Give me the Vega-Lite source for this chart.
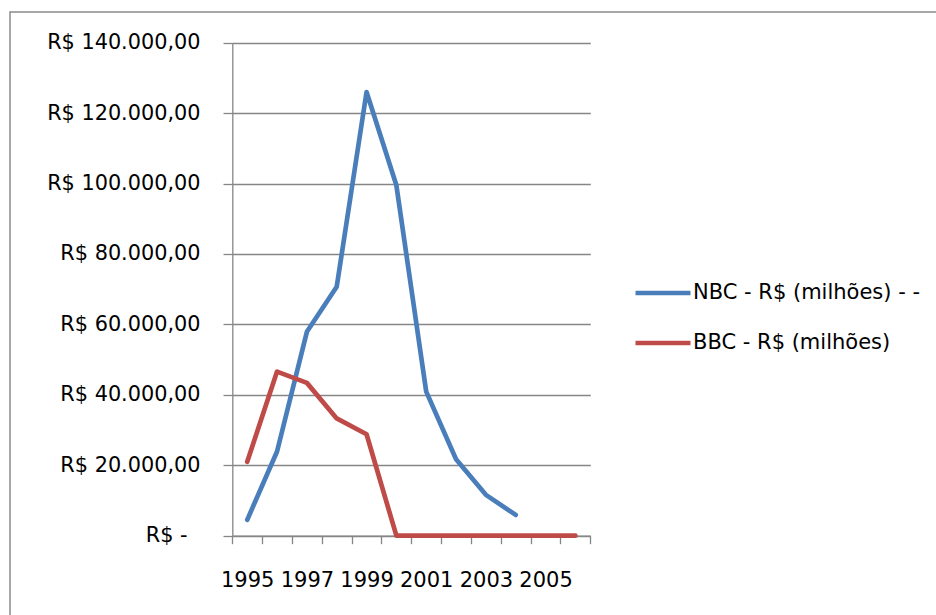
{
  "$schema": "https://vega.github.io/schema/vega-lite/v6.json",
  "autosize": {"type": "none"},
  "padding": {"left": 10, "top": 12, "right": -2, "bottom": -2},
  "width": 928,
  "height": 605,
  "background": "white",
  "config": {
    "view": {"stroke": "#8a8a8a", "strokeWidth": 1.5},
    "locale": {"number": {"decimal": ",", "thousands": ".", "grouping": [3], "currency": ["R$ ", ""]}},
    "font": "DejaVu Sans"
  },
  "data": {
    "values": [
      {"ano": 1995, "serie": "NBC - R$ (milhões) - -", "valor": 4500},
      {"ano": 1996, "serie": "NBC - R$ (milhões) - -", "valor": 23900},
      {"ano": 1997, "serie": "NBC - R$ (milhões) - -", "valor": 57900},
      {"ano": 1998, "serie": "NBC - R$ (milhões) - -", "valor": 70700},
      {"ano": 1999, "serie": "NBC - R$ (milhões) - -", "valor": 126000},
      {"ano": 2000, "serie": "NBC - R$ (milhões) - -", "valor": 99500},
      {"ano": 2001, "serie": "NBC - R$ (milhões) - -", "valor": 40900},
      {"ano": 2002, "serie": "NBC - R$ (milhões) - -", "valor": 21700},
      {"ano": 2003, "serie": "NBC - R$ (milhões) - -", "valor": 11600},
      {"ano": 2004, "serie": "NBC - R$ (milhões) - -", "valor": 5900},
      {"ano": 1995, "serie": "BBC - R$ (milhões)", "valor": 21000},
      {"ano": 1996, "serie": "BBC - R$ (milhões)", "valor": 46600},
      {"ano": 1997, "serie": "BBC - R$ (milhões)", "valor": 43400},
      {"ano": 1998, "serie": "BBC - R$ (milhões)", "valor": 33300},
      {"ano": 1999, "serie": "BBC - R$ (milhões)", "valor": 28800},
      {"ano": 2000, "serie": "BBC - R$ (milhões)", "valor": 0},
      {"ano": 2001, "serie": "BBC - R$ (milhões)", "valor": 0},
      {"ano": 2002, "serie": "BBC - R$ (milhões)", "valor": 0},
      {"ano": 2003, "serie": "BBC - R$ (milhões)", "valor": 0},
      {"ano": 2004, "serie": "BBC - R$ (milhões)", "valor": 0},
      {"ano": 2005, "serie": "BBC - R$ (milhões)", "valor": 0},
      {"ano": 2006, "serie": "BBC - R$ (milhões)", "valor": 0}
    ]
  },
  "mark": {"type": "line", "strokeWidth": 4.7, "strokeCap": "round", "strokeJoin": "round"},
  "encoding": {
    "x": {
      "field": "ano",
      "type": "ordinal",
      "bandPosition": 0.5,
      "scale": {"type": "band", "range": [222.3, 580.3], "paddingInner": 0, "paddingOuter": 0},
      "axis": {
        "orient": "bottom",
        "offset": -81.3,
        "title": null,
        "grid": false,
        "tickBand": "extent",
        "tickSize": 8,
        "tickColor": "#868686",
        "tickWidth": 1.3,
        "domainColor": "#868686",
        "domainWidth": 1.3,
        "labelFont": "DejaVu Sans",
        "labelFontSize": 21,
        "labelColor": "black",
        "labelPadding": 26,
        "labelAngle": 0,
        "labelOverlap": false,
        "labelExpr": "toNumber(datum.value) % 2 == 1 ? datum.label : ''"
      }
    },
    "y": {
      "field": "valor",
      "type": "quantitative",
      "scale": {"domain": [0, 140000], "range": [523.7, 30.7], "nice": false, "zero": true},
      "axis": {
        "orient": "left",
        "offset": -222.3,
        "title": null,
        "values": [0, 20000, 40000, 60000, 80000, 100000, 120000, 140000],
        "format": "$,.2f",
        "labelExpr": "datum.value == 0 ? 'R$ -' : datum.label",
        "labelFont": "DejaVu Sans",
        "labelFontSize": 20.8,
        "labelColor": "black",
        "labelPadding": {"condition": {"test": "datum.value == 0", "value": 36}, "value": 23},
        "labelBaseline": "middle",
        "labelLimit": 0,
        "tickSize": 9.3,
        "tickColor": "#868686",
        "tickWidth": 1.3,
        "domainColor": "#868686",
        "domainWidth": 1.3,
        "grid": true,
        "gridColor": "#868686",
        "gridWidth": 1.3
      }
    },
    "color": {
      "field": "serie",
      "type": "nominal",
      "scale": {"domain": ["NBC - R$ (milhões) - -", "BBC - R$ (milhões)"], "range": ["#4a7ebb", "#be4b48"]},
      "legend": {
        "orient": "none",
        "legendX": 623,
        "legendY": 251,
        "title": null,
        "padding": 0,
        "symbolType": "stroke",
        "symbolSize": 3025,
        "symbolStrokeWidth": 4.7,
        "labelFont": "DejaVu Sans",
        "labelFontSize": 21,
        "labelColor": "black",
        "labelOffset": 0,
        "labelLimit": 0,
        "rowPadding": 10
      }
    }
  }
}
